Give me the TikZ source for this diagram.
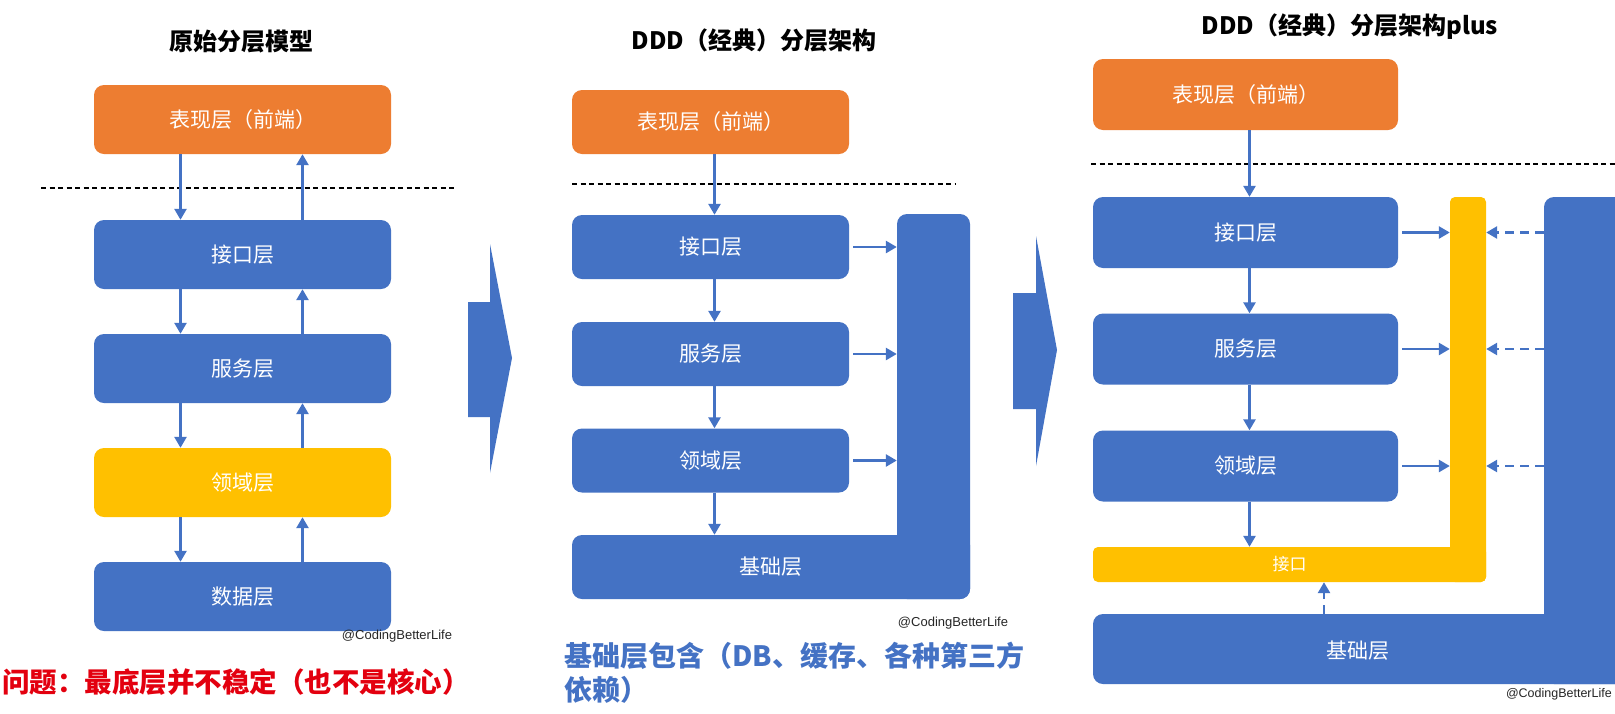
\documentclass[tikz,border=0pt]{standalone}
\usepackage{fontspec}
\setmainfont{Noto Sans CJK SC}
\newfontfamily\latinsans{Liberation Sans}
\usetikzlibrary{arrows.meta,calc}
\definecolor{lblue}{HTML}{4472C4}
\definecolor{lorange}{HTML}{ED7D31}
\definecolor{lyellow}{HTML}{FFC000}
\definecolor{lred}{HTML}{E3000F}
\tikzset{
  layer/.style={rounded corners=10pt, inner sep=0pt, text=white, font=\fontsize{21}{25}\selectfont},
  bar/.style={rounded corners=10pt, inner sep=0pt, fill=lblue},
  ybar/.style={rounded corners=5pt, inner sep=0pt, fill=lyellow},
  flow/.style={draw=lblue, line width=2.6pt, -{Triangle[length=11pt,width=12pt]}},
  dflow/.style={flow, dash pattern=on 9pt off 6pt},
  sepline/.style={draw=black, line width=1.3pt, dash pattern=on 5pt off 3.5pt},
  ttl/.style={font=\fontsize{24}{28}\selectfont\bfseries},
  credit/.style={font=\latinsans\fontsize{13}{15}\selectfont, text=black!85},
  bigarrow/.style={fill=lblue},
}
\begin{document}
\begin{tikzpicture}[x=1pt,y=-1pt]
\useasboundingbox (0,0) rectangle (1615,713);
\clip (0,0) rectangle (1615,713);
\fill[white] (0,0) rectangle (1615,713);

% ---------------- Panel 1 ----------------
\node[ttl] (t1) at (241,42) {原始分层模型};
\node[layer, fill=lorange, minimum width=297pt, minimum height=69pt] (p1pres) at (242.5,119.5) {表现层（前端）};
\node[layer, fill=lblue, minimum width=297pt, minimum height=69pt] (p1api) at (242.5,254.5) {接口层};
\node[layer, fill=lblue, minimum width=297pt, minimum height=69pt] (p1svc) at (242.5,368.5) {服务层};
\node[layer, fill=lyellow, minimum width=297pt, minimum height=69pt] (p1dom) at (242.5,482.5) {领域层};
\node[layer, fill=lblue, minimum width=297pt, minimum height=69pt] (p1dat) at (242.5,596.5) {数据层};
\coordinate (s1a) at (41,188);
\coordinate (s1b) at (454,188);
\draw[sepline] (s1a) -- (s1b);
\foreach \u/\l in {p1pres/p1api, p1api/p1svc, p1svc/p1dom, p1dom/p1dat}{
  \draw[flow] ([xshift=-62pt]\u.south) -- ([xshift=-62pt]\l.north);
  \draw[flow] ([xshift=60pt]\l.north) -- ([xshift=60pt]\u.south);
}
\node[credit] (c1) at (397,636) {@CodingBetterLife};
\node[anchor=west, inner sep=0pt, text=lred, font=\fontsize{27.5}{32}\selectfont\bfseries] (q1) at (2,682) {问题：最底层并不稳定（也不是核心）};

% big arrow 1
\fill[bigarrow] (468,302) -- (490,302) -- (490,244) -- (512,358) -- (490,473) -- (490,417) -- (468,417) -- cycle;

% ---------------- Panel 2 ----------------
\node[ttl] (t2) at (754,40) {DDD（经典）分层架构};
\node[bar, minimum width=73pt, minimum height=385pt] (p2infv) at (933.5,406.5) {};
\node[bar, minimum width=398pt, minimum height=64pt, text=white, font=\fontsize{21}{25}\selectfont] (p2inf) at (771,567) {基础层};
\node[layer, fill=lorange, minimum width=277pt, minimum height=64pt] (p2pres) at (710.5,122) {表现层（前端）};
\node[layer, fill=lblue, minimum width=277pt, minimum height=64pt] (p2api) at (710.5,247) {接口层};
\node[layer, fill=lblue, minimum width=277pt, minimum height=64pt] (p2svc) at (710.5,354) {服务层};
\node[layer, fill=lblue, minimum width=277pt, minimum height=64pt] (p2dom) at (710.5,460.5) {领域层};
\coordinate (s2a) at (572,184);
\coordinate (s2b) at (955,184);
\draw[sepline] (s2a) -- (s2b);
\draw[flow] ([xshift=4pt]p2pres.south) -- ([xshift=4pt]p2api.north);
\draw[flow] ([xshift=4pt]p2api.south) -- ([xshift=4pt]p2svc.north);
\draw[flow] ([xshift=4pt]p2svc.south) -- ([xshift=4pt]p2dom.north);
\draw[flow] ([xshift=4pt]p2dom.south) -- ([xshift=4pt]p2dom.south |- p2inf.north);
\foreach \b in {p2api, p2svc, p2dom}{
  \draw[flow] ([xshift=4pt]\b.east) -- (\b.east -| p2infv.west);
}
\node[credit] (c2) at (953,623) {@CodingBetterLife};
\node[anchor=north west, inner sep=0pt, align=left, text=lblue, font=\fontsize{28}{34}\selectfont\bfseries] (q2) at (564,642) {基础层包含（DB、缓存、各种第三方\\依赖）};

% big arrow 2
\fill[bigarrow] (1013,293) -- (1036,293) -- (1036,236) -- (1057,350) -- (1036,466) -- (1036,409) -- (1013,409) -- cycle;

% ---------------- Panel 3 ----------------
\node[ttl] (t3) at (1350,27) {DDD（经典）分层架构plus};
\node[bar, minimum width=96pt, minimum height=487pt] (p3infv) at (1592,440.5) {};
\node[bar, minimum width=547pt, minimum height=70pt] (p3inf) at (1366.5,649) {};
\node[text=white, font=\fontsize{21}{25}\selectfont, inner sep=0pt] (p3inft) at (1358,651) {基础层};
\node[ybar, minimum width=36pt, minimum height=385pt] (p3yv) at (1468,389.5) {};
\node[ybar, minimum width=393pt, minimum height=35pt, text=white, font=\fontsize{17}{20}\selectfont] (p3y) at (1289.5,564.5) {接口};
\node[layer, fill=lorange, minimum width=305pt, minimum height=71pt] (p3pres) at (1245.5,94.5) {表现层（前端）};
\node[layer, fill=lblue, minimum width=305pt, minimum height=71pt] (p3api) at (1245.5,232.5) {接口层};
\node[layer, fill=lblue, minimum width=305pt, minimum height=71pt] (p3svc) at (1245.5,349) {服务层};
\node[layer, fill=lblue, minimum width=305pt, minimum height=71pt] (p3dom) at (1245.5,466) {领域层};
\coordinate (s3a) at (1091,164);
\coordinate (s3b) at (1615,164);
\draw[sepline] (s3a) -- (s3b);
\draw[flow] ([xshift=4pt]p3pres.south) -- ([xshift=4pt]p3api.north);
\draw[flow] ([xshift=4pt]p3api.south) -- ([xshift=4pt]p3svc.north);
\draw[flow] ([xshift=4pt]p3svc.south) -- ([xshift=4pt]p3dom.north);
\draw[flow] ([xshift=4pt]p3dom.south) -- ([xshift=4pt]p3dom.south |- p3y.north);
\foreach \b in {p3api, p3svc, p3dom}{
  \draw[flow] ([xshift=4pt]\b.east) -- (\b.east -| p3yv.west);
  \draw[dflow] (\b.east -| p3infv.west) -- (\b.east -| p3yv.east);
}
\coordinate (p3up) at (1324,0);
\draw[dflow] (p3up |- p3inf.north) -- (p3up |- p3y.south);
\node[credit, anchor=east, font=\latinsans\fontsize{12.5}{15}\selectfont, inner sep=1pt] (c3) at (1613,694) {@CodingBetterLife};
\end{tikzpicture}
\end{document}
